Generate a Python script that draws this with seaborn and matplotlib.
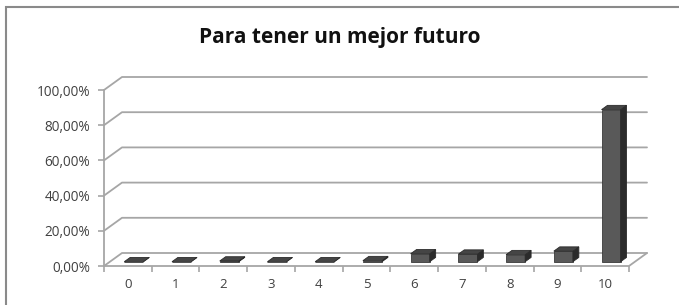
import numpy as np
import pandas as pd
import matplotlib
matplotlib.use("Agg")
import matplotlib.pyplot as plt
import seaborn as sns
from matplotlib.patches import Polygon, Rectangle

categories = ["0", "1", "2", "3", "4", "5", "6", "7", "8", "9", "10"]
values = [0.0, 0.0, 0.4, 0.0, 0.0, 0.6, 4.5, 4.3, 4.0, 6.0, 86.4]
y_ticks = [0, 20, 40, 60, 80, 100]
y_labels = ["0,00%", "20,00%", "40,00%", "60,00%", "80,00%", "100,00%"]
title = "Para tener un mejor futuro"

sns.set_theme(style="white")
plt.rcParams["font.family"] = ["Open Sans", "DejaVu Sans"]

W, H = 679, 305
fig = plt.figure(figsize=(W / 100, H / 100), dpi=100)
ax = fig.add_axes([104 / W, 39 / H, 525 / W, 176 / H])

df = pd.DataFrame({"cat": categories, "val": values})
sns.barplot(data=df, x="cat", y="val", color="#595959", width=0.4,
            saturation=1, ax=ax, zorder=3)

ax.set_xlim(-0.5, 10.5)
ax.set_ylim(0, 100)

# depth of the fake 3D box in data units
dx = 18 / (525 / 11)
dy = 13 / 1.76
grid_c = "#a6a6a6"

# back wall gridlines + left side diagonals
for v in y_ticks:
    ax.plot([-0.5, -0.5 + dx, 10.5 + dx], [v, v + dy, v + dy],
            color=grid_c, lw=1.3, clip_on=False, zorder=1)
# floor
ax.plot([-0.5, 10.5, 10.5 + dx], [0, 0, dy], color=grid_c, lw=1.3,
        clip_on=False, zorder=2)
ax.plot([-0.5, -0.5], [0, 100], color=grid_c, lw=1.3, clip_on=False, zorder=2)

# turn flat bars into boxes sitting in the middle third of the floor
f, d = 0.33, 0.33
for p in list(ax.patches):
    x0, w, h = p.get_x(), p.get_width(), p.get_height()
    fx, fy = x0 + f * dx, f * dy
    p.set_x(fx)
    p.set_y(fy)
    p.set_edgecolor("#3a3a3a")
    p.set_linewidth(0.6)
    p.set_clip_on(False)
    top = [(fx, fy + h), (fx + w, fy + h), (fx + w + d * dx, fy + h + d * dy),
           (fx + d * dx, fy + h + d * dy)]
    side = [(fx + w, fy), (fx + w + d * dx, fy + d * dy),
            (fx + w + d * dx, fy + h + d * dy), (fx + w, fy + h)]
    ax.add_patch(Polygon(side, closed=True, facecolor="#2b2b2b",
                         edgecolor="#2b2b2b", lw=0.6, clip_on=False, zorder=3))
    ax.add_patch(Polygon(top, closed=True, facecolor="#454545",
                         edgecolor="#2b2b2b", lw=0.6, clip_on=False, zorder=4))

for s in ax.spines.values():
    s.set_visible(False)

ax.set_yticks(y_ticks)
ax.set_yticklabels(y_labels)
ax.set_xticks(range(len(categories)))
ax.set_xticklabels(categories)
ax.set_xticks(np.arange(-0.5, 11, 1), minor=True)
ax.tick_params(axis="x", which="major", length=0, pad=9, labelsize=9.5,
               colors="#404040")
ax.tick_params(axis="x", which="minor", length=4, width=1.2, color=grid_c,
               bottom=True)
ax.tick_params(axis="y", length=4, width=1.2, color=grid_c, left=True,
               labelsize=9.8, labelcolor="#404040", pad=6)
ax.set_xlabel("")
ax.set_ylabel("")

fig.text(340 / W, 1 - 37 / H, title, ha="center", va="center",
         fontsize=15, fontweight="bold", color="#111111")

# chart frame
fig.add_artist(Rectangle((6 / W, -0.1), 1.0, 1 - 7 / H + 0.1,
                         transform=fig.transFigure, fill=False,
                         edgecolor="#8a8a8a", lw=1.5))

fig.savefig("out.png", dpi=100)
